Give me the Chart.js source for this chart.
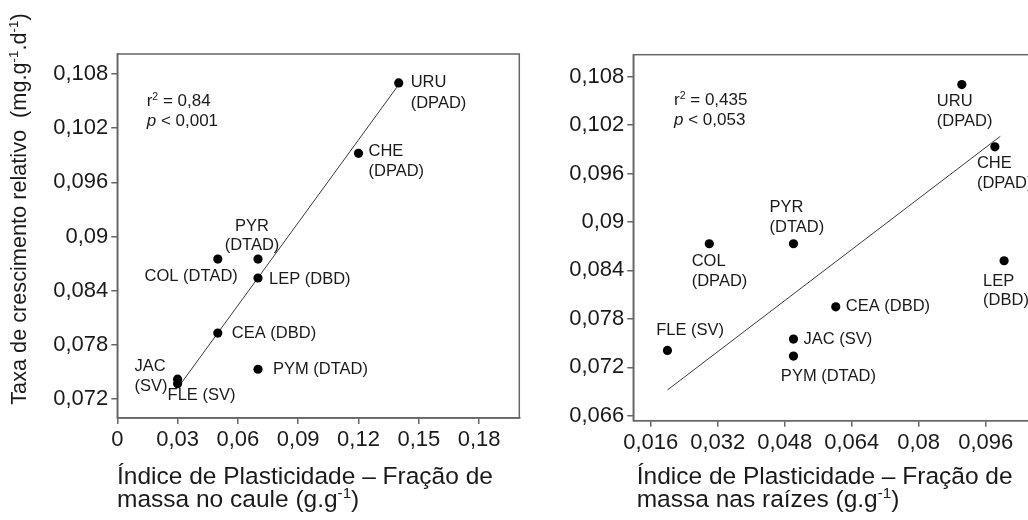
<!DOCTYPE html>
<html><head><meta charset="utf-8">
<script src="https://cdn.jsdelivr.net/npm/chart.js@4.4.1/dist/chart.umd.min.js"></script>
<style>
html,body{margin:0;padding:0;background:#fff;overflow:hidden;width:1028px;height:520px;position:relative;}
#c1{position:absolute;left:0;top:0;}
#c2{position:absolute;left:540px;top:0;}
</style></head><body>
<canvas id="c1" width="540" height="520"></canvas>
<canvas id="c2" width="560" height="520"></canvas>
<script>
// ---------- DATA ----------
const species    = ['URU','CHE','PYR','COL','LEP','CEA','PYM','JAC','FLE'];
const groupsStem = ['DPAD','DPAD','DTAD','DTAD','DBD','DBD','DTAD','SV','SV'];
const groupsRoot = ['DPAD','DPAD','DTAD','DPAD','DBD','DBD','DTAD','SV','SV'];
// Plasticity index – stem mass fraction (x) and RGR (y), left panel
const stemPI  = [0.14, 0.12, 0.07, 0.05, 0.07, 0.05, 0.07, 0.03, 0.03];
const rgrStem = [0.107, 0.0992, 0.0875, 0.0875, 0.0854, 0.0793, 0.0753, 0.0742, 0.0737];
// Plasticity index – root mass fraction (x) and RGR (y), right panel
const rootPI  = [0.0903, 0.0982, 0.0501, 0.030, 0.1004, 0.0602, 0.0501, 0.0501, 0.020];
const rgrRoot = [0.107, 0.0993, 0.0873, 0.0873, 0.0852, 0.0795, 0.0734, 0.0755, 0.0741];
// regression lines (end points)
const fitStemX = [0.03, 0.14];
const fitStemY = [0.0732, 0.1068];
const fitRootX = [0.02, 0.0995];
const fitRootY = [0.0692, 0.1006];
// tick values
const xTicksStem = [0, 0.03, 0.06, 0.09, 0.12, 0.15, 0.18];
const yTicksStem = [0.072, 0.078, 0.084, 0.09, 0.096, 0.102, 0.108];
const xTicksRoot = [0.016, 0.032, 0.048, 0.064, 0.08, 0.096];
const yTicksRoot = [0.066, 0.072, 0.078, 0.084, 0.09, 0.096, 0.102, 0.108];
// statistics
const statsStem = {r2: '0,84',  p: '0,001'};
const statsRoot = {r2: '0,435', p: '0,053'};

// ---------- LABEL LAYOUT (pixel offsets from point) ----------
const layoutStem = {
  URU:{dx:12, dy:0,   align:'left',  split:true, gap:21},
  CHE:{dx:10, dy:-2,  align:'left',  split:true, gap:20},
  PYR:{dx:-6, dy:-33, align:'center',split:true, gap:19.5},
  COL:{dx:20, dy:17,  align:'right', split:false},
  LEP:{dx:11, dy:1.5, align:'left',  split:false},
  CEA:{dx:14, dy:0,   align:'left',  split:false},
  PYM:{dx:15, dy:0,   align:'left',  split:false},
  JAC:{dx:-43,dy:-13, align:'left',  split:true, gap:20},
  FLE:{dx:-10,dy:12,  align:'left',  split:false}
};
const layoutRoot = {
  URU:{dx:-25, dy:16.7, align:'left', split:true, gap:20},
  CHE:{dx:-18, dy:17,   align:'left', split:true, gap:20},
  PYR:{dx:-24, dy:-36.6,align:'left', split:true, gap:20.6},
  COL:{dx:-17.6,dy:17.7,align:'left', split:true, gap:19.7},
  LEP:{dx:-21, dy:20.7, align:'left', split:true, gap:19.3},
  CEA:{dx:10,  dy:0,    align:'left', split:false},
  JAC:{dx:10,  dy:0,    align:'left', split:false},
  PYM:{dx:-12.6,dy:20.3,align:'left', split:false},
  FLE:{dx:-11.3,dy:-19.7,align:'left',split:false}
};

// ---------- HELPERS ----------
const FAM = '"Liberation Sans", Arial, Helvetica, sans-serif';
const TXT = '#1a1a1a';
const AX = '#666666';
function fnt(size, it){ return (it ? 'italic ' : '') + size + 'px ' + FAM; }
function fmt(v){ return parseFloat(Number(v).toFixed(4)).toString().replace('.', ','); }
function segSize(s, size){ return s.sup ? size * 0.62 : size; }
function richWidth(ctx, segs, size){
  let w = 0;
  for (const s of segs){ ctx.font = fnt(segSize(s,size), s.it); w += ctx.measureText(s.t).width; }
  return w;
}
function drawRich(ctx, segs, x, y, size, align){
  const w = richWidth(ctx, segs, size);
  let cx = align === 'center' ? x - w/2 : (align === 'right' ? x - w : x);
  ctx.textAlign = 'left'; ctx.textBaseline = 'alphabetic'; ctx.fillStyle = TXT;
  for (const s of segs){
    ctx.font = fnt(segSize(s,size), s.it);
    ctx.fillText(s.t, cx, s.sup ? y - size*0.36 : y);
    cx += ctx.measureText(s.t).width;
  }
}

function makePlugin(cfg){
  return {
    id: 'deco',
    afterDatasetsDraw(chart){
      const ctx = chart.ctx, a = chart.chartArea;
      const xs = chart.scales.x, ys = chart.scales.y;
      ctx.save();
      // frame
      ctx.strokeStyle = AX; ctx.lineWidth = 1.5;
      ctx.strokeRect(a.left, a.top, a.right - a.left, a.bottom - a.top);
      // point labels
      ctx.font = fnt(16.5); ctx.fillStyle = TXT; ctx.textBaseline = 'middle';
      cfg.names.forEach((n, i) => {
        const L = cfg.layout[n];
        const px = xs.getPixelForValue(cfg.xv[i]), py = ys.getPixelForValue(cfg.yv[i]);
        ctx.textAlign = L.align;
        const grp = '(' + cfg.groups[i] + ')';
        if (L.split){
          ctx.fillText(n, px + L.dx, py + L.dy);
          ctx.fillText(grp, px + L.dx, py + L.dy + L.gap);
        } else {
          ctx.fillText(n + ' ' + grp, px + L.dx, py + L.dy);
        }
      });
      // statistics
      const sx = a.left + cfg.statDx, sy = a.top + cfg.statDy;
      drawRich(ctx, [{t:'r'},{t:'2',sup:true},{t:' = ' + cfg.stats.r2}], sx, sy, 17, 'left');
      drawRich(ctx, [{t:'p',it:true},{t:' < ' + cfg.stats.p}], sx, sy + 19.5, 17, 'left');
      // x title
      drawRich(ctx, [{t:'Índice de Plasticidade – Fração de'}], cfg.titleX, 483.5, 24.5, 'left');
      drawRich(ctx, [{t:cfg.title2},{t:'-1',sup:true},{t:')'}], cfg.titleX, 507, 24.5, 'left');
      // y title
      if (cfg.yTitle){
        ctx.translate(25.5, 209);
        ctx.rotate(-Math.PI/2);
        drawRich(ctx, [{t:'Taxa de crescimento relativo  (mg.g'},{t:'-1',sup:true},{t:'.d'},{t:'-1',sup:true},{t:')'}], 0, 0, 21.7, 'center');
      }
      ctx.restore();
    }
  };
}

function makeChart(id, o){
  const pts = o.xv.map((x, i) => ({x, y: o.yv[i]}));
  const fit = o.fx.map((x, i) => ({x, y: o.fy[i]}));
  const tickFont = {size: 22, family: FAM};
  return new Chart(document.getElementById(id), {
    type: 'scatter',
    data: { datasets: [
      {data: pts, pointRadius: 4.6, pointHoverRadius: 4.6, backgroundColor: '#000', borderWidth: 0},
      {data: fit, showLine: true, borderColor: '#3a3a3a', borderWidth: 1, pointRadius: 0, fill: false}
    ]},
    options: {
      responsive: false, animation: false, events: [],
      layout: {padding: {top: o.top, right: o.right, left: 0, bottom: 0}},
      plugins: {legend: {display: false}, tooltip: {enabled: false}},
      scales: {
        x: {type: 'linear', min: o.xmin, max: o.xmax,
            afterBuildTicks: s => { s.ticks = o.xt.map(v => ({value: v})); },
            afterFit: s => { s.height = o.bottomH; },
            ticks: {callback: v => fmt(v), font: tickFont, color: TXT, padding: 3, maxRotation: 0, autoSkip: false},
            grid: {drawOnChartArea: false, drawTicks: true, tickLength: 6, color: AX, lineWidth: 1.5},
            border: {display: true, color: AX, width: 1.5}},
        y: {type: 'linear', min: o.ymin, max: o.ymax,
            afterBuildTicks: s => { s.ticks = o.yt.map(v => ({value: v})); },
            afterFit: s => { s.width = o.leftW; },
            ticks: {callback: v => fmt(v), font: tickFont, color: TXT, padding: 3, autoSkip: false},
            grid: {drawOnChartArea: false, drawTicks: true, tickLength: 6, color: AX, lineWidth: 1.5},
            border: {display: true, color: AX, width: 1.5}}
      }
    },
    plugins: [makePlugin(o)]
  });
}

makeChart('c1', {
  xv: stemPI, yv: rgrStem, fx: fitStemX, fy: fitStemY, xt: xTicksStem, yt: yTicksStem,
  xmin: 0, xmax: 0.2, ymin: 0.0699, ymax: 0.1102,
  top: 54, right: 20.7, leftW: 117.3, bottomH: 102,
  names: species, groups: groupsStem, layout: layoutStem, stats: statsStem,
  statDx: 29.4, statDy: 52, titleX: 117, title2: 'massa no caule (g.g', yTitle: true
});
makeChart('c2', {
  xv: rootPI, yv: rgrRoot, fx: fitRootX, fy: fitRootY, xt: xTicksRoot, yt: yTicksRoot,
  xmin: 0.01185, xmax: 0.11, ymin: 0.0654, ymax: 0.1107,
  top: 54.7, right: 55.7, leftW: 93.3, bottomH: 99.3,
  names: species, groups: groupsRoot, layout: layoutRoot, stats: statsRoot,
  statDx: 40.7, statDy: 50.3, titleX: 96.7, title2: 'massa nas raízes (g.g', yTitle: false
});
</script>
</body></html>
